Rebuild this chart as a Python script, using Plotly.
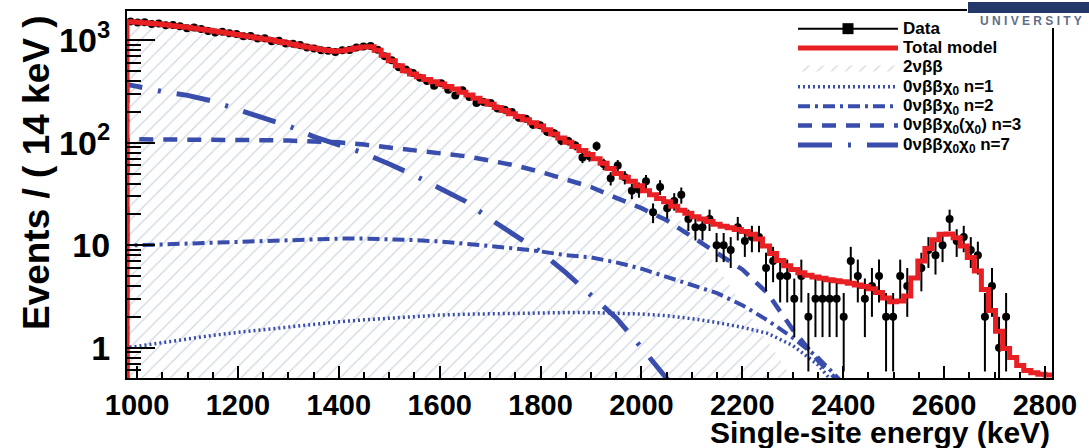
import plotly.graph_objects as go
import math

# ---------------- data ----------------
E_LO, BIN, NBIN = 980, 14, 131          # histogram: 131 bins of 14 keV
E_HI = E_LO + BIN * NBIN
centers = [E_LO + BIN * (i + 0.5) for i in range(NBIN)]

total_model = [
    1520, 1500, 1480, 1460, 1440, 1415, 1390, 1365, 1340, 1310,
    1280, 1250, 1225, 1200, 1170, 1140, 1110, 1085, 1055, 1030,
    1005, 975, 945, 915, 885, 860, 835, 815, 795, 780,
    790, 815, 840, 860, 865, 800, 715, 630, 565, 505,
    470, 440, 415, 395, 375, 355, 335, 312, 292, 272,
    254, 237, 221, 206, 192, 180, 168, 157, 146, 134,
    122, 111, 101, 92, 84, 77, 70, 63, 56, 50,
    46, 42, 38, 34, 31, 28.5, 26.5, 24, 22, 20.5,
    19, 18, 17, 16, 15.3, 14.8, 14.2, 13.6, 12.8, 11.5,
    9.8, 8.3, 7.1, 6.3, 5.8, 5.4, 5.1, 4.9, 4.75, 4.6,
    4.5, 4.4, 4.25, 4.1, 3.95, 3.75, 3.45, 3.05, 2.8, 2.85,
    3.2, 4.8, 7.0, 9.3, 11.3, 12.8, 12.9, 11.8, 9.8, 7.6,
    5.6, 3.7, 2.3, 1.45, 0.98, 0.8, 0.67, 0.6, 0.57, 0.55,
    0.54,
]

data_counts = [
    1530, 1490, 1500, 1445, 1455, 1400, 1410, 1370, 1310, 1330,
    1290, 1235, 1190, 1215, 1175, 1150, 1095, 1100, 1040, 1050,
    980, 990, 930, 925, 900, 850, 830, 800, 790, 770,
    800, 805, 850, 870, 880, 810, 700, 640, 545, 520,
    480, 430, 400, 360, 380, 330, 290, 325, 280, 245,
    250, 245, 216, 210, 200, 175, 172, 150, 148, 128,
    124, 105, 104, 94, 72, 74, 93, 62, 45, 60,
    46, 34, 35, 42, 21, 37, 23, 27, 31, 18,
    15, 15, 18, 10, 10, 9, 15, 11, 12, 12,
    6, 7, 5, 5, 3, 5, 2, 3, 3, 3,
    3, 2, 7, 5, 3, 4, 5, 2, 2, 5,
    4, 0, 6, 9, 8, 10, 18, 11, 12, 9,
    8, 2, 4, 1, 2, 0, 0, 0, 0, 0,
    0,
]

two_nu_bb = [
    1440, 1425, 1405, 1385, 1365, 1340, 1318, 1295, 1270, 1242,
    1213, 1185, 1160, 1136, 1108, 1080, 1052, 1027, 1000, 975,
    950, 922, 893, 865, 838, 813, 790, 770, 750, 735,
    740, 760, 780, 800, 790, 720, 650, 590, 535, 485,
    450, 422, 398, 378, 358, 339, 320, 298, 279, 260,
    242, 226, 211, 196, 183, 171, 159, 148, 138, 126,
    115, 104, 95, 86, 78, 71, 64, 57, 51, 45,
    40.5, 36, 32, 28.5, 25.5, 23, 21, 19, 17, 14.5,
    12, 9.7, 7.8, 6.2, 4.9, 3.9, 3.1, 2.45, 1.95, 1.55,
    1.22, 0.96, 0.76, 0.6, 0.47, 0.37, 0.29, 0.22, 0.17, 0.13,
    0.1, 0, 0, 0, 0, 0, 0, 0, 0, 0,
    0, 0, 0, 0, 0, 0, 0, 0, 0, 0,
    0, 0, 0, 0, 0, 0, 0, 0, 0, 0,
    0,
]

sig_energy = [980, 1000, 1050, 1100, 1150, 1200, 1250, 1300, 1350, 1400,
              1450, 1500, 1550, 1600, 1650, 1700, 1750, 1800, 1850, 1900,
              1950, 2000, 2050, 2100, 2150, 2200, 2250, 2300, 2350, 2400,
              2450]
maj_n1 = [1.0, 1.03, 1.12, 1.22, 1.32, 1.41, 1.5, 1.6, 1.7, 1.79,
          1.87, 1.95, 2.02, 2.08, 2.12, 2.15, 2.17, 2.19, 2.2, 2.2,
          2.18, 2.13, 2.05, 1.92, 1.76, 1.58, 1.38, 1.05, 0.68, 0.35,
          0.15]
maj_n2 = [9.9, 10.0, 10.2, 10.4, 10.6, 10.8, 11.1, 11.3, 11.5, 11.6,
          11.6, 11.5, 11.2, 10.9, 10.4, 9.9, 9.3, 8.7, 8.0, 7.6,
          6.8, 5.9, 4.9, 4.1, 3.4, 2.6, 1.85, 1.25, 0.8, 0.45,
          0.22]
maj_n3 = [108, 108, 108, 107, 106, 106, 106, 105, 104, 101,
          96, 90, 85, 80, 74, 67, 60, 52, 44, 37,
          29, 23, 17.5, 12.2, 8.5, 5.8, 3.4, 1.5, 0.75, 0.42,
          0.2]
maj_n7 = [370, 355, 316, 290, 255, 210, 176, 146, 115, 95,
          79, 62, 48, 36, 27, 18, 12.3, 8.6, 5.4, 3.3,
          1.95, 1.0, 0.52, 0.25, 0.1, 0.05, 0.02, 0.01, 0.01, 0.01,
          0.01]

y_tick_vals = [1, 10, 100, 1000]
y_tick_text = ["1", "10", "10<sup>2</sup>", "10<sup>3</sup>"]
y_minor_vals = [m * d for d in (0.1, 1, 10, 100, 1000) for m in range(2, 10)]

# ---------------- styling ----------------
FLOOR = 1e-3          # far below the visible range -> vertical drop at edges
BLUE = "rgb(57,77,172)"
RED = "rgb(232,32,36)"
HATCH = "rgb(168,182,198)"
FONT = "Liberation Sans, Arial, sans-serif"


def leg(txt):
    return '<span style="font-size:17px">' + txt + "</span>"


fig = go.Figure()

# 2nbb hatched area
fig.add_trace(go.Scatter(
    x=[E_LO, E_LO] + centers + [centers[-1]],
    y=[FLOOR, two_nu_bb[0]] + [v if v > 0 else FLOOR for v in two_nu_bb] + [FLOOR],
    mode="lines", fill="toself", name=leg("2\u03bd\u03b2\u03b2"),
    line=dict(width=0, color=HATCH),
    fillcolor="rgba(0,0,0,0)",
    fillpattern=dict(shape="/", fgcolor=HATCH, bgcolor="rgba(255,255,255,0)",
                     size=10, solidity=0.14),
    legendrank=3, hoverinfo="skip"))

sig_styles = [
    (maj_n1, "0\u03bd\u03b2\u03b2\u03c7<sub>0</sub> n=1", "2px,3px", 3.5, 4),
    (maj_n2, "0\u03bd\u03b2\u03b2\u03c7<sub>0</sub> n=2", "12px,5px,3px,5px", 4, 5),
    (maj_n3, "0\u03bd\u03b2\u03b2\u03c7<sub>0</sub>(\u03c7<sub>0</sub>) n=3", "14px,10px", 4.5, 6),
    (maj_n7, "0\u03bd\u03b2\u03b2\u03c7<sub>0</sub>\u03c7<sub>0</sub> n=7", "34px,16px,3px,16px", 5, 7),
]
for vals, name, dash, w, rank in sig_styles:
    fig.add_trace(go.Scatter(
        x=[sig_energy[0]] + sig_energy, y=[FLOOR] + vals,
        mode="lines", name=leg(name), line=dict(color=BLUE, width=w, dash=dash),
        legendrank=rank, hoverinfo="skip"))

# data points with Poisson-like error bars
dx = [c for c, n in zip(centers, data_counts) if n > 0]
dy = [n for n in data_counts if n > 0]
err_up = [math.sqrt(n) for n in dy]
err_dn = [min(math.sqrt(n), n - 0.01) for n in dy]
fig.add_trace(go.Scatter(
    x=dx, y=dy, mode="markers", showlegend=False,
    marker=dict(symbol="circle", size=8, color="black"),
    error_y=dict(type="data", array=err_up, arrayminus=err_dn,
                 color="black", thickness=2, width=0)))
fig.add_trace(go.Scatter(
    x=[None], y=[None], mode="lines+markers", name=leg("Data"),
    line=dict(color="black", width=2),
    marker=dict(symbol="square", size=11, color="black"), legendrank=1))

# total model
fig.add_trace(go.Scatter(
    x=[E_LO, E_LO] + centers + [E_HI],
    y=[FLOOR, total_model[0]] + total_model + [total_model[-1]],
    mode="lines", name=leg("Total model"), line=dict(color=RED, width=5, shape="hvh"),
    legendrank=2, hoverinfo="skip"))

L, R, T, B = 127, 37, 9, 70
W, H = 1089, 448
pw, ph = W - L - R, H - T - B


def px(xpix):
    return (xpix - L) / pw


def py(ypix):
    return 1 - (ypix - T) / ph


fig.update_layout(
    width=W, height=H,
    margin=dict(l=L, r=R, t=T, b=B),
    paper_bgcolor="white", plot_bgcolor="white",
    font=dict(family=FONT, color="black"),
    showlegend=True,
    legend=dict(x=px(793), y=py(12), xanchor="left", yanchor="top",
                bgcolor="rgba(0,0,0,0)", borderwidth=0, itemwidth=100,
                tracegroupgap=0,
                font=dict(family=FONT, size=12.6, color="black", weight="bold")),
    xaxis=dict(range=[E_LO, E_HI], tickmode="linear", tick0=1000, dtick=200,
               ticks="inside", ticklen=12, tickwidth=2, tickcolor="black",
               showline=True, linewidth=2, linecolor="black", mirror=True,
               showgrid=False, zeroline=False,
               tickfont=dict(family=FONT, size=29, color="black", weight="bold"),
               minor=dict(dtick=50, tick0=1000, ticks="inside", ticklen=6,
                          tickwidth=1.5, tickcolor="black", showgrid=False)),
    yaxis=dict(type="log", range=[-0.296, 3.286],
               tickmode="array", tickvals=y_tick_vals, ticktext=y_tick_text,
               ticks="inside", ticklen=28, tickwidth=2, tickcolor="black",
               showline=True, linewidth=2, linecolor="black", mirror=True,
               showgrid=False, zeroline=False, ticklabelstandoff=8,
               tickfont=dict(family=FONT, size=34, color="black", weight="bold"),
               minor=dict(tickmode="array", tickvals=y_minor_vals, ticks="inside",
                          ticklen=14, tickwidth=1.5, tickcolor="black",
                          showgrid=False)),
)

fig.add_annotation(text="Single-site energy (keV)", xref="paper", yref="paper",
                   x=1.0, y=py(433), xanchor="right", yanchor="middle",
                   showarrow=False,
                   font=dict(family=FONT, size=30, color="black", weight="bold"))
fig.add_annotation(text="Events / ( 14 keV )", xref="paper", yref="paper",
                   x=px(36), y=py(172), xanchor="center", yanchor="middle",
                   textangle=-90, showarrow=False,
                   font=dict(family=FONT, size=37, color="black", weight="bold"))

# university logo fragment in the top-right corner
fig.add_shape(type="rect", xref="paper", yref="paper", layer="above",
              x0=px(967), x1=px(1089), y0=py(26), y1=py(0),
              fillcolor="white", line=dict(width=0))
fig.add_shape(type="rect", xref="paper", yref="paper", layer="above",
              x0=px(968), x1=px(1089), y0=py(11), y1=py(0),
              fillcolor="rgb(35,55,105)", line=dict(width=0))
fig.add_annotation(text="U N I V E R S I T Y", xref="paper", yref="paper",
                   x=px(1031), y=py(19), xanchor="center", yanchor="middle",
                   showarrow=False,
                   font=dict(family=FONT, size=12, color="rgb(95,110,135)",
                             weight="bold"))

fig.write_html("out.html")
